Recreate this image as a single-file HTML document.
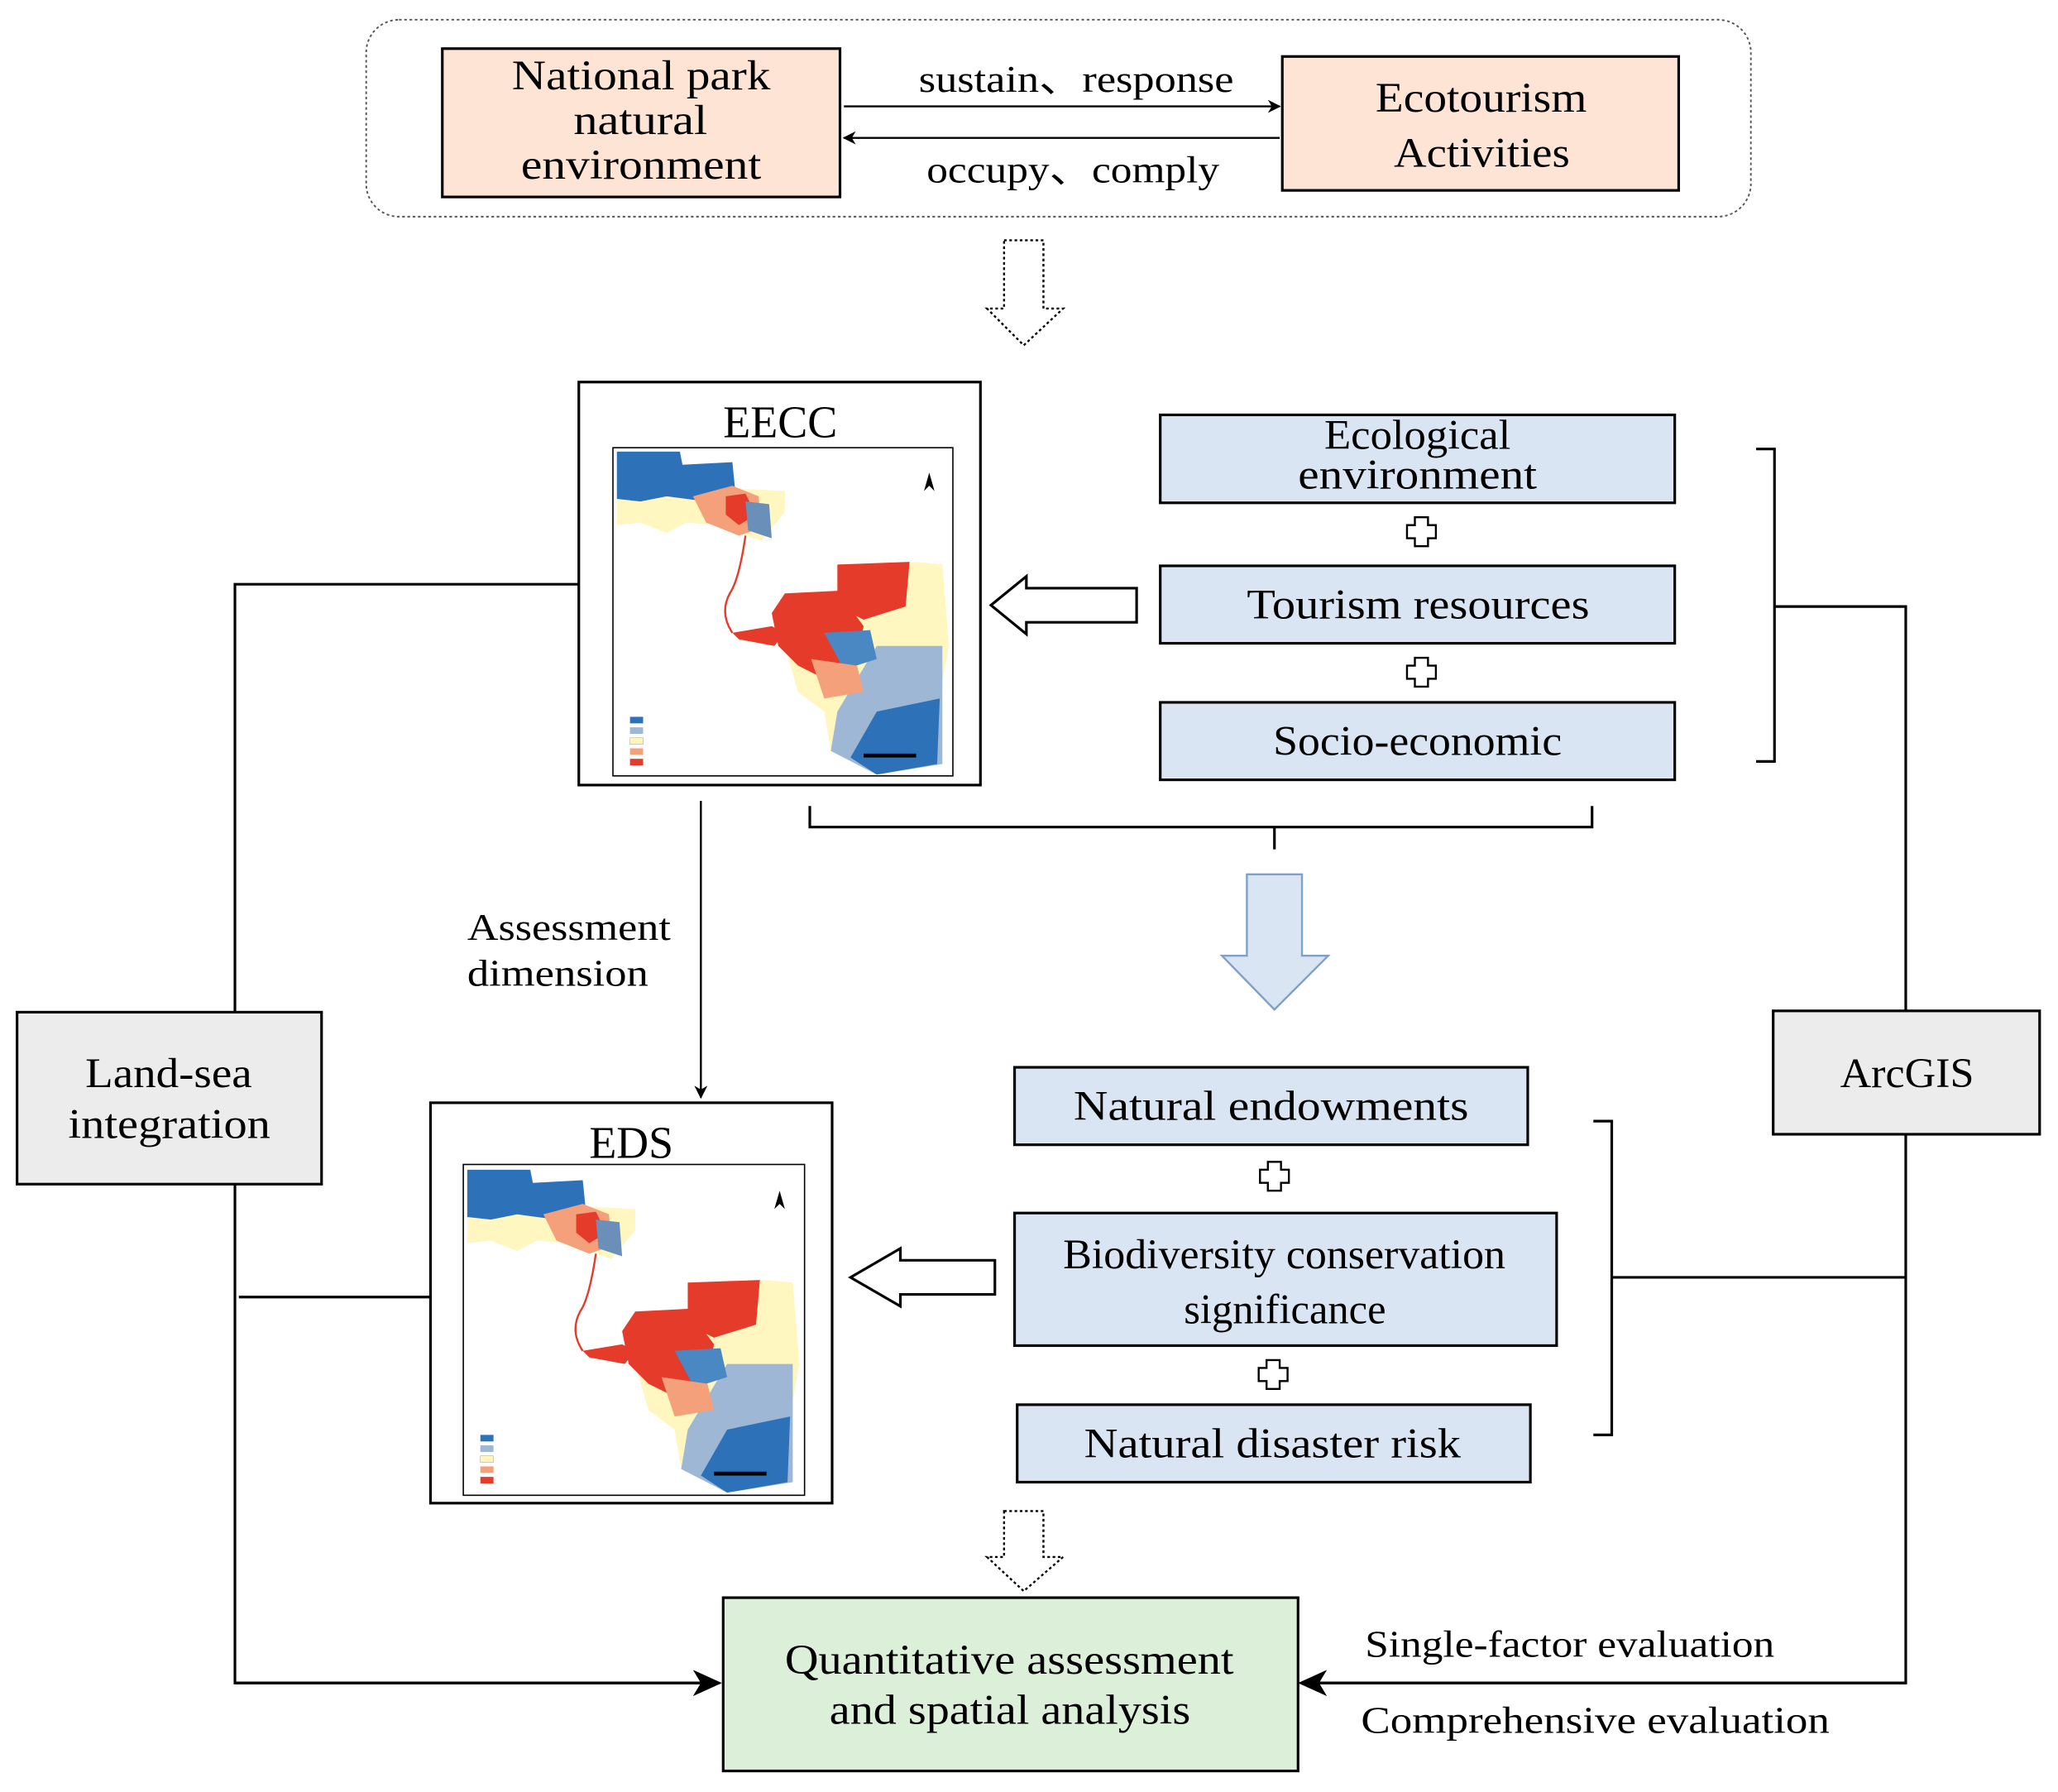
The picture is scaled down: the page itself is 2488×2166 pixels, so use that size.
<!DOCTYPE html>
<html><head><meta charset="utf-8"><style>html,body{margin:0;padding:0;background:#fff}svg{display:block}text{font-family:"Liberation Serif",serif;fill:#000}</style></head><body>
<svg width="2488" height="2166" viewBox="0 0 1568 1365" xmlns="http://www.w3.org/2000/svg">
<defs>
<marker id="ah" markerWidth="10" markerHeight="10" refX="9" refY="5" orient="auto" markerUnits="userSpaceOnUse"><path d="M0,0 L10,5 L0,10 L3,5 Z" fill="#000"/></marker>
<marker id="ah2" markerWidth="22" markerHeight="20" refX="20" refY="10" orient="auto" markerUnits="userSpaceOnUse"><path d="M0,0 L22,10 L0,20 L6,10 Z" fill="#000"/></marker>
<g id="map">
<path d="M2,2 L50,2 L52,12 L90,10 L92,30 L130,32 L130,48 L112,70 L95,64 L80,58 L55,56 L40,64 L20,56 L2,58 Z" fill="#fff6c0"/>
<path d="M2,2 L50,2 L52,12 L90,10 L92,30 L70,40 L40,36 L20,40 L2,38 Z" fill="#2d72b8"/>
<path d="M60,36 L90,28 L110,36 L112,60 L95,66 L70,56 Z" fill="#f4a07a"/>
<path d="M85,36 L100,34 L108,50 L95,58 L85,50 Z" fill="#e53b2a"/>
<path d="M100,40 L118,42 L120,68 L102,62 Z" fill="#6a8fb8"/>
<path d="M100,66 Q95,100 88,110 Q80,125 90,140" fill="none" stroke="#e53b2a" stroke-width="1.5"/>
<path d="M170,90 L230,86 L250,88 L255,150 L248,190 L245,240 L200,248 L165,230 L160,200 L140,185 L130,150 L140,115 L170,110 Z" fill="#fff6c0"/>
<path d="M170,88 L225,86 L222,120 L190,130 L170,120 Z" fill="#e53b2a"/>
<path d="M200,150 L250,150 L250,240 L200,248 L165,230 L170,200 Z" fill="#9db7d4"/>
<path d="M200,200 L248,190 L246,240 L200,248 L180,235 Z" fill="#2d72b8"/>
<path d="M130,110 L170,108 L190,135 L185,160 L160,175 L140,165 L125,150 L120,125 Z" fill="#e53b2a"/>
<path d="M160,140 L195,138 L200,160 L175,168 Z" fill="#4a88c4"/>
<path d="M150,160 L185,165 L190,185 L160,190 Z" fill="#f4a07a"/>
<path d="M90,140 L120,135 L130,140 L122,150 L95,145 Z" fill="#e53b2a"/>
<path d="M240,18 l-4,14 l4,-4 l4,4 z" fill="#000"/>
<rect x="12" y="204" width="10" height="5" fill="#2d72b8"/><rect x="12" y="212" width="10" height="5" fill="#9db7d4"/><rect x="12" y="220" width="10" height="5" fill="#fff6c0" stroke="#999" stroke-width=".3"/><rect x="12" y="228" width="10" height="5" fill="#f4a07a"/><rect x="12" y="236" width="10" height="5" fill="#e53b2a"/>
<rect x="190" y="232" width="40" height="3" fill="#000"/>
</g>
</defs>
<rect x="279" y="15" width="1055" height="150" rx="25" fill="none" stroke="#555" stroke-width="1.2" stroke-dasharray="2,2"/>
<rect x="337" y="37" width="303" height="113" fill="#fde4d4" stroke="#000" stroke-width="2"/>
<g font-size="32" lengthAdjust="spacingAndGlyphs"><text x="390" y="68" textLength="197" lengthAdjust="spacingAndGlyphs">National park</text><text x="437" y="102" textLength="102" lengthAdjust="spacingAndGlyphs">natural</text><text x="397" y="136" textLength="183" lengthAdjust="spacingAndGlyphs">environment</text></g>
<rect x="977" y="43" width="302" height="102" fill="#fde4d4" stroke="#000" stroke-width="2"/>
<g font-size="32"><text x="1048" y="85" textLength="161" lengthAdjust="spacingAndGlyphs">Ecotourism</text><text x="1062" y="127" textLength="134" lengthAdjust="spacingAndGlyphs">Activities</text></g>
<line x1="643" y1="81" x2="975" y2="81" stroke="#000" stroke-width="1.5" marker-end="url(#ah)"/>
<line x1="975" y1="105" x2="643" y2="105" stroke="#000" stroke-width="1.5" marker-end="url(#ah)"/>
<g font-size="29"><text x="700" y="70" textLength="240" lengthAdjust="spacingAndGlyphs">sustain、response</text><text x="706" y="139" textLength="223" lengthAdjust="spacingAndGlyphs">occupy、comply</text></g>
<path d="M765,183 H795 V235 H810 L780,263 L752,235 H765 Z" fill="#fff" stroke="#000" stroke-width="1.5" stroke-dasharray="2,2"/>
<rect x="441" y="291" width="306" height="307" fill="#fff" stroke="#000" stroke-width="2"/>
<text x="551" y="333" font-size="35" textLength="87" lengthAdjust="spacingAndGlyphs">EECC</text>
<rect x="467" y="341" width="259" height="250" fill="#fff" stroke="#000" stroke-width="1"/>
<use href="#map" x="468" y="342"/>
<g fill="#dae5f3" stroke="#000" stroke-width="2"><rect x="884" y="316" width="392" height="67"/><rect x="884" y="431" width="392" height="59"/><rect x="884" y="535" width="392" height="59"/></g>
<g font-size="32"><text x="1009" y="342" textLength="142" lengthAdjust="spacingAndGlyphs">Ecological</text><text x="989" y="372" textLength="182" lengthAdjust="spacingAndGlyphs">environment</text><text x="950" y="471" textLength="261" lengthAdjust="spacingAndGlyphs">Tourism resources</text><text x="970" y="575" textLength="220" lengthAdjust="spacingAndGlyphs">Socio-economic</text></g>
<g fill="#fff" stroke="#000" stroke-width="1.5"><path d="M1078,394 h10 v6 h6 v10 h-6 v6 h-10 v-6 h-6 v-10 h6 z"/><path d="M1078,501 h10 v6 h6 v10 h-6 v6 h-10 v-6 h-6 v-10 h6 z"/><path d="M966,885 h10 v6 h6 v10 h-6 v6 h-10 v-6 h-6 v-10 h6 z"/><path d="M965,1036 h10 v6 h6 v10 h-6 v6 h-10 v-6 h-6 v-10 h6 z"/></g>
<path d="M1338,342 H1352 V580 H1338 M1352,462 H1452 V770" fill="none" stroke="#000" stroke-width="2"/>
<path d="M866,448 H782 V439 L755,461 L782,483 V474 H866 Z" fill="#fff" stroke="#000" stroke-width="2"/>
<path d="M617,614 V630 H1213 V614 M971,630 V647" fill="none" stroke="#000" stroke-width="2"/>
<path d="M950,666 H992 V728 H1012 L971,769 L931,728 H950 Z" fill="#dae5f3" stroke="#7fa0c8" stroke-width="1.5"/>
<line x1="534" y1="610" x2="534" y2="836" stroke="#000" stroke-width="1.5" marker-end="url(#ah)"/>
<g font-size="29"><text x="356" y="716" textLength="155" lengthAdjust="spacingAndGlyphs">Assessment</text><text x="356" y="751" textLength="138" lengthAdjust="spacingAndGlyphs">dimension</text></g>
<rect x="13" y="771" width="232" height="131" fill="#ececec" stroke="#000" stroke-width="2"/>
<g font-size="32"><text x="65" y="828" textLength="127" lengthAdjust="spacingAndGlyphs">Land-sea</text><text x="52" y="867" textLength="154" lengthAdjust="spacingAndGlyphs">integration</text></g>
<path d="M441,445 H179 V771 M179,902 V1282 H548 M182,988 H328" fill="none" stroke="#000" stroke-width="2"/>
<line x1="179" y1="1282" x2="548" y2="1282" stroke="#000" stroke-width="2" marker-end="url(#ah2)"/>
<rect x="328" y="840" width="306" height="305" fill="#fff" stroke="#000" stroke-width="2"/>
<text x="449" y="882" font-size="35" textLength="64" lengthAdjust="spacingAndGlyphs">EDS</text>
<rect x="353" y="887" width="260" height="252" fill="#fff" stroke="#000" stroke-width="1"/>
<use href="#map" x="354" y="889"/>
<g fill="#dae5f3" stroke="#000" stroke-width="2"><rect x="773" y="813" width="391" height="59"/><rect x="773" y="924" width="413" height="101"/><rect x="775" y="1070" width="391" height="59"/></g>
<g font-size="32"><text x="818" y="853" textLength="301" lengthAdjust="spacingAndGlyphs">Natural endowments</text><text x="810" y="966" textLength="337" lengthAdjust="spacingAndGlyphs">Biodiversity conservation</text><text x="902" y="1008" textLength="154" lengthAdjust="spacingAndGlyphs">significance</text><text x="826" y="1110" textLength="287" lengthAdjust="spacingAndGlyphs">Natural disaster risk</text></g>
<path d="M1214,854 H1228 V1093 H1214 M1228,973 H1452" fill="none" stroke="#000" stroke-width="2"/>
<path d="M758,960 H686 V951 L648,973 L686,995 V986 H758 Z" fill="#fff" stroke="#000" stroke-width="2"/>
<rect x="1351" y="770" width="203" height="94" fill="#ececec" stroke="#000" stroke-width="2"/>
<text x="1402" y="828" font-size="32" textLength="102" lengthAdjust="spacingAndGlyphs">ArcGIS</text>
<path d="M1452,864 V1282 H995" fill="none" stroke="#000" stroke-width="2"/>
<line x1="1452" y1="1282" x2="991" y2="1282" stroke="#000" stroke-width="2" marker-end="url(#ah2)"/>
<path d="M765,1151 H795 V1186 H810 L780,1212 L752,1186 H765 Z" fill="#fff" stroke="#000" stroke-width="1.5" stroke-dasharray="2,2"/>
<rect x="551" y="1217" width="438" height="132" fill="#dcefd9" stroke="#000" stroke-width="2"/>
<g font-size="32"><text x="598" y="1275" textLength="342" lengthAdjust="spacingAndGlyphs">Quantitative assessment</text><text x="632" y="1313" textLength="275" lengthAdjust="spacingAndGlyphs">and spatial analysis</text></g>
<g font-size="29"><text x="1040" y="1262" textLength="312" lengthAdjust="spacingAndGlyphs">Single-factor evaluation</text><text x="1037" y="1320" textLength="357" lengthAdjust="spacingAndGlyphs">Comprehensive evaluation</text></g>
</svg>
</body></html>
